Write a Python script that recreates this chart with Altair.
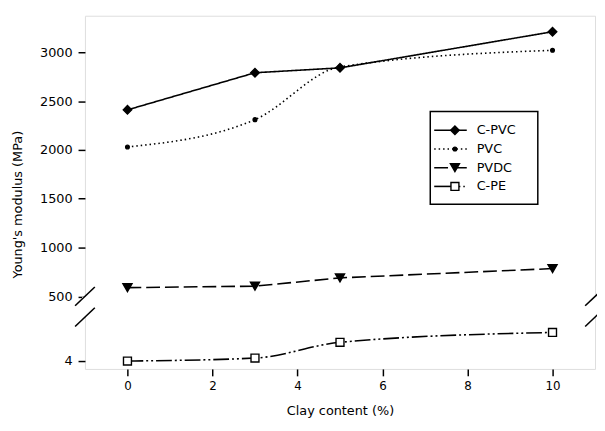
import altair as alt
import pandas as pd

# ---- data ----
CLAY = [0, 3, 5, 10]
SERIES = ["C-PVC", "PVC", "PVDC", "C-PE"]
C_PVC = [2410, 2790, 2840, 3210]
PVC = [2030, 2310, 2850, 3020]
PVDC = [590, 605, 690, 785]
C_PE = [4.0, 4.075, 4.475, 4.725]

X_TICKS = [0, 2, 4, 6, 8, 10]
Y_TICKS_UPPER = [500, 1000, 1500, 2000, 2500, 3000]
Y_TICKS_LOWER = [4]

# broken-axis mapping (display units)
UP_BASE, UP_REF, UP_K = 123, 1000, 0.099
LO_BASE, LO_REF, LO_K = 8, 4, 40

rows = []
for name, vals in zip(SERIES, [C_PVC, PVC, PVDC, C_PE]):
    for x, v in zip(CLAY, vals):
        rows.append({"clay": x, "value": v, "series": name})
df = pd.DataFrame(rows)

tick_vals = [LO_BASE + (v - LO_REF) * LO_K for v in Y_TICKS_LOWER] + \
            [UP_BASE + (v - UP_REF) * UP_K for v in Y_TICKS_UPPER]

FONT = "DejaVu Sans"
W, H = 517, 358

base = alt.Chart(df).transform_calculate(
    d=f"datum.series == 'C-PE' ? {LO_BASE} + (datum.value - {LO_REF}) * {LO_K} : {UP_BASE} + (datum.value - {UP_REF}) * {UP_K}"
)

xenc = alt.X("clay:Q", scale=alt.Scale(domain=[-1, 11], nice=False, zero=False),
             axis=alt.Axis(values=X_TICKS, title="Clay content (%)", grid=False, domain=False,
                           tickSize=7, tickWidth=1.5, tickColor="black", labelPadding=5,
                           labelFontSize=12, labelFont=FONT, labelColor="black",
                           titleFont=FONT, titleFontSize=13, titleFontWeight="normal",
                           titleColor="black", titlePadding=13))
yenc = alt.Y("d:Q", scale=alt.Scale(domain=[0, H], nice=False, zero=False),
             axis=alt.Axis(values=tick_vals,
                           labelExpr=f"datum.value < 60 ? '4' : format(round((datum.value - {UP_BASE}) / {UP_K} + {UP_REF}), 'd')",
                           title="Young's modulus (MPa)", grid=False, domain=False,
                           tickSize=7, tickWidth=1.5, tickColor="black", labelPadding=6,
                           labelFontSize=13, labelFont=FONT, labelColor="black",
                           titleFont=FONT, titleFontSize=13, titleFontWeight="normal",
                           titleColor="black", titleAngle=-90, titleX=-68, titleY=191,
                           titleAlign="center", titleBaseline="middle"))

DASHES = [[1, 0], [1.5, 3], [14, 5], [16, 3, 2, 3, 2, 3]]
INTERP = ["linear", "monotone", "linear", "monotone"]
SHAPES = ["diamond", "circle", "triangle-down", "square"]
SIZES = [75, 14, 85, 65]
FILLS = ["black", "black", "black", "white"]

layers = []
for i, (name, dash, interp) in enumerate(zip(SERIES, DASHES, INTERP)):
    enc = dict(x=xenc, y=yenc) if i == 0 else dict(x="clay:Q", y="d:Q")
    layers.append(base.transform_filter(alt.datum.series == name).mark_line(
        color="black", strokeWidth=1.6, interpolate=interp, strokeDash=dash).encode(**enc))
for name, shp, sz, fl in zip(SERIES, SHAPES, SIZES, FILLS):
    layers.append(base.transform_filter(alt.datum.series == name).mark_point(
        shape=shp, size=sz, filled=True, fill=fl, stroke="black", strokeWidth=1.4, opacity=1
    ).encode(x="clay:Q", y="d:Q"))

one = pd.DataFrame({"k": [0]})

# axis break: white gaps in frame plus diagonal marks
breaks = []
for xc in [0, W]:
    breaks.append(alt.Chart(one).mark_rect(color="white").encode(
        x=alt.value(xc - 3), x2=alt.value(xc + 3), y=alt.value(285), y2=alt.value(305)))
    for yc in [285, 306]:
        breaks.append(alt.Chart(one).mark_rule(color="black", strokeWidth=1.6).encode(
            x=alt.value(xc - 10), x2=alt.value(xc + 10), y=alt.value(yc + 9), y2=alt.value(yc - 10)))

# legend
legend = [alt.Chart(one).mark_rect(fill="white", stroke="black", strokeWidth=1.5).encode(
    x=alt.value(350), x2=alt.value(459), y=alt.value(97), y2=alt.value(191))]
ROW_Y = [116, 135, 154, 173]
for name, ry, dash, shp, sz, fl in zip(SERIES, ROW_Y, DASHES, SHAPES, SIZES, FILLS):
    if name == "C-PE":
        legend.append(alt.Chart(one).mark_rule(color="black", strokeWidth=1.6).encode(
            x=alt.value(354), x2=alt.value(372), y=alt.value(ry)))
        legend.append(alt.Chart(one).mark_rule(color="black", strokeWidth=1.6, strokeDash=[1.5, 3]).encode(
            x=alt.value(379), x2=alt.value(387), y=alt.value(ry)))
    else:
        legend.append(alt.Chart(one).mark_rule(color="black", strokeWidth=1.6, strokeDash=dash).encode(
            x=alt.value(354), x2=alt.value(387), y=alt.value(ry)))
    legend.append(alt.Chart(one).mark_point(shape=shp, size=sz, filled=True, fill=fl, stroke="black",
                                            strokeWidth=1.4, opacity=1).encode(
        x=alt.value(375), y=alt.value(ry)))
    legend.append(alt.Chart(one).mark_text(text=name, align="left", baseline="middle", font=FONT,
                                           fontSize=13, color="black").encode(
        x=alt.value(397), y=alt.value(ry)))

chart = alt.layer(*layers, *breaks, *legend).properties(
    width=W, height=H,
    autosize=alt.AutoSizeParams(type="none"),
    padding={"left": 78, "top": 5, "right": 2, "bottom": 55},
).configure_view(stroke="black", strokeWidth=1.6).configure(background="white")

chart.save("out.html", embed_options={"renderer": "svg", "actions": False})
